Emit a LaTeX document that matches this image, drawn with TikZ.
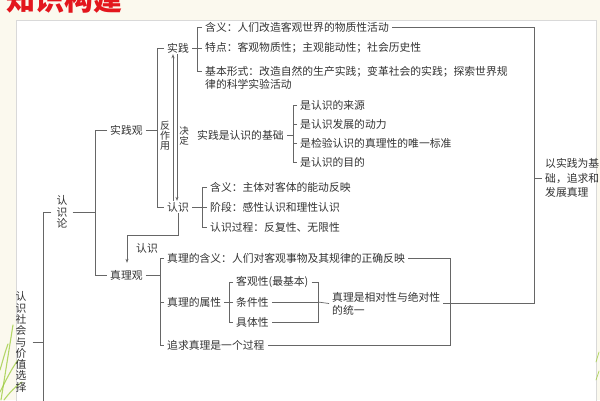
\documentclass[tikz,border=0pt]{standalone}
\usepackage{fontspec}
\newfontfamily\cjk{Noto Sans CJK SC}
\usetikzlibrary{arrows.meta}
\definecolor{cream}{HTML}{FBF9EE}
\definecolor{linec}{HTML}{666666}
\definecolor{textc}{HTML}{333333}
\definecolor{titlered}{HTML}{E3161D}
\definecolor{grass}{HTML}{9CCB3B}
\tikzset{
  txt/.style={font=\cjk\fontsize{10.8}{13}\selectfont, text=textc, inner xsep=3pt, inner ysep=1pt, anchor=west},
  vtxt/.style={font=\cjk\fontsize{10.8}{11.3}\selectfont, text=textc, align=center, inner xsep=6pt, inner ysep=1pt},
  stxt/.style={font=\cjk\fontsize{10}{10}\selectfont, text=textc, align=center, inner sep=0pt},
  ln/.style={draw=linec, line width=0.7pt},
  arr/.style={-{Stealth[length=4pt,width=3pt]}},
  blade/.style={draw=grass, line width=1.1pt, opacity=.75, line cap=round}
}
\begin{document}
\begin{tikzpicture}[x=1pt,y=-1pt]
\useasboundingbox (0,0) rectangle (600,400);
\clip (0,0) rectangle (600,400);
% background
\fill[cream] (0,0) rectangle (600,400);
\fill[white] (16,20) rectangle (596,402);
\draw[gray!30, line width=0.6pt] (16,402) -- (16,20) -- (596,20) -- (596,402);
% grass
\draw[blade] (1,400) .. controls (5,375) and (9,350) .. (13,325);
\draw[blade] (0,392) .. controls (6,380) and (12,368) .. (18,360);
\draw[blade] (0,370) .. controls (3,360) and (5,352) .. (8,344);
\draw[blade] (4,400) .. controls (10,392) and (16,386) .. (22,382);
\draw[blade, line width=0.8pt] (596,362) -- (599,352);
\draw[blade, line width=0.8pt] (596,380) -- (599,371);
% title
\node[font=\cjk\bfseries\fontsize{29}{30}\selectfont, text=titlered, anchor=west, inner sep=0pt] (title) at (6,-1) {知识构建};

% bracket coordinates
\coordinate (b0) at (43,405);
\coordinate (b1) at (95,0);
\coordinate (b2) at (157,0);
\coordinate (b5) at (197,0);
\coordinate (b3) at (293,0);
\coordinate (b4) at (202,0);
\coordinate (b6) at (160,0);
\coordinate (b7) at (229,0);
\coordinate (b8) at (318,0);
\coordinate (rb) at (534,0);
\coordinate (rt) at (450,0);
\coordinate (k) at (127,235);

% level 0 / 1
\node[vtxt] (V) at (21,342) {认\\识\\社\\会\\与\\价\\值\\选\\择};
\node[vtxt, inner xsep=5pt] (L) at (62,212) {认\\识\\论};
\draw[ln] (L.west) -- (L.west -| b0) -- (b0);
\draw[ln] (V.east) -- (V.east -| b0);

% level 2
\node[txt] (SJG) at (107,130) {实践观};
\node[txt] (ZLG) at (107,275) {真理观};
\draw[ln] (L.east) -- (L.east -| b1);
\draw[ln] (SJG.west) -- (SJG.west -| b1) -- (ZLG.west -| b1) -- (ZLG.west);

% 实践 / 认识
\node[txt] (SJ) at (164,48) {实践};
\node[txt] (RS) at (164,207) {认识};
\draw[ln] (SJG.east) -- (SJG.east -| b2);
\draw[ln] (SJ.west) -- (SJ.west -| b2) -- (RS.west -| b2) -- (RS.west);
\draw[ln,arr] ([xshift=-5pt]RS.north) -- ([xshift=-5pt]SJ.south);
\draw[ln,arr] ([xshift=-1pt]SJ.south) -- ([xshift=-1pt]RS.north);
\node[stxt] (fzy) at (165,136) {反\\作\\用};
\node[stxt, font=\cjk\fontsize{9.5}{9.5}\selectfont] (jd) at (184,136) {决\\定};

% 实践 details
\node[txt] (S1) at (202,27) {含义：人们改造客观世界的物质性活动};
\node[txt] (S2) at (202,48) {特点：客观物质性；主观能动性；社会历史性};
\node[txt, align=left] (S3) at (202,77.5) {基本形式：改造自然的生产实践；变革社会的实践；探索世界规\\律的科学实验活动};
\draw[ln] (SJ.east) -- (SJ.east -| b5);
\draw[ln] (S1.west) -- (S1.west -| b5) -- ([yshift=6.5pt]S3.west -| b5) -- ([yshift=6.5pt]S3.west);
\draw[ln] (S2.west) -- (S2.west -| b5);

% 实践是认识的基础
\node[txt] (JC) at (194,135) {实践是认识的基础};
\node[txt] (A1) at (297,105) {是认识的来源};
\node[txt] (A2) at (297,124) {是认识发展的动力};
\node[txt] (A3) at (297,143) {是检验认识的真理性的唯一标准};
\node[txt] (A4) at (297,162) {是认识的目的};
\draw[ln] (JC.east) -- (JC.east -| b3);
\draw[ln] (A1.west) -- (A1.west -| b3) -- (A4.west -| b3) -- (A4.west);
\draw[ln] (A2.west) -- (A2.west -| b3);
\draw[ln] (A3.west) -- (A3.west -| b3);

% 认识 details
\node[txt] (R1) at (207,187) {含义：主体对客体的能动反映};
\node[txt] (R2) at (207,207) {阶段：感性认识和理性认识};
\node[txt] (R3) at (207,227) {认识过程：反复性、无限性};
\draw[ln] (RS.east) -- (RS.east -| b4);
\draw[ln] (R1.west) -- (R1.west -| b4) -- (R3.west -| b4) -- (R3.west);
\draw[ln] (R2.west) -- (R2.west -| b4);

% 认识 -> 真理观
\draw[ln,arr] (RS.south) |- (k) -- ([yshift=6pt]ZLG.north -| k);
\node[txt, anchor=center] (lab) at (147,248) {认识};

% 真理观 details
\node[txt] (T1) at (164,258) {真理的含义：人们对客观事物及其规律的正确反映};
\node[txt] (T2) at (164,302) {真理的属性};
\node[txt] (T3) at (164,345) {追求真理是一个过程};
\draw[ln] (ZLG.east) -- (ZLG.east -| b6);
\draw[ln] (T1.west) -- (T1.west -| b6) -- (T3.west -| b6) -- (T3.west);
\draw[ln] (T2.west) -- (T2.west -| b6);

\node[txt] (P1) at (233,282) {客观性(最基本)};
\node[txt] (P2) at (233,302) {条件性};
\node[txt] (P3) at (233,322) {具体性};
\draw[ln] (T2.east) -- (T2.east -| b7);
\draw[ln] (P1.west) -- (P1.west -| b7) -- (P3.west -| b7) -- (P3.west);
\draw[ln] (P2.west) -- (P2.west -| b7);
\draw[ln] (P1.east) -- (P1.east -| b8) -- (P3.east -| b8) -- (P3.east);
\draw[ln] (P2.east) -- (P2.east -| b8);

\node[txt, align=left] (ZT) at (329,303.5) {真理是相对性与绝对性\\的统一};
\draw[ln] (P2.east -| b8) -- (ZT.west);

% right brackets
\draw[ln] (T1.east) -- (T1.east -| rt) -- (T3.east -| rt) -- (T3.east);
\node[txt, align=left, font=\cjk\fontsize{10.8}{14.5}\selectfont] (J) at (542,178) {以实践为基\\础，追求和\\发展真理};
\draw[ln] (S1.east) -- (S1.east -| rb) -- (ZT.east -| rb) -- (ZT.east);
\draw[ln] (J.west -| rb) -- (J.west);
\end{tikzpicture}
\end{document}
